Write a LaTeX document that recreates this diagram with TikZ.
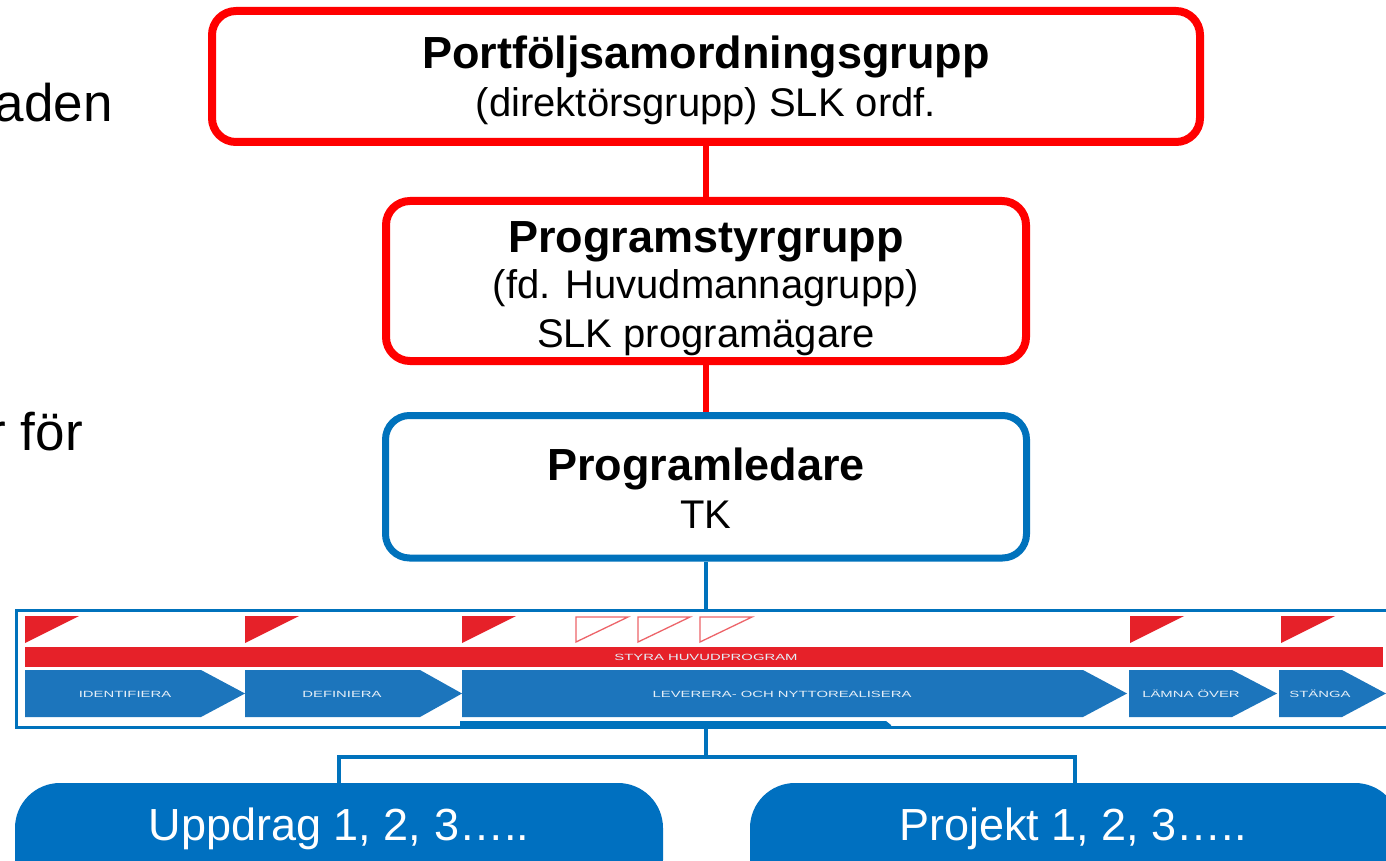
\documentclass[tikz,border=0pt]{standalone}
\usepackage{fontspec}
\setmainfont{Liberation Sans}
\definecolor{bred}{RGB}{255,0,0}
\definecolor{bblue}{RGB}{0,114,188}
\definecolor{chev}{RGB}{28,117,188}
\definecolor{flagred}{RGB}{230,33,41}
\definecolor{pillblue}{RGB}{0,112,192}
\tikzset{
  redbox/.style={draw=bred, line width=8pt, rounded corners=24pt, fill=white, inner sep=0pt},
  bluebox/.style={draw=bblue, line width=7pt, rounded corners=24pt, fill=white, inner sep=0pt},
  title/.style={font=\fontsize{45}{45}\selectfont\bfseries, anchor=base, inner sep=0pt},
  sub/.style={font=\fontsize{40}{40}\selectfont, anchor=base, inner sep=0pt},
  side/.style={font=\fontsize{53}{53}\selectfont, anchor=base east, inner sep=0pt},
  redline/.style={draw=bred, line width=6pt},
  blueline/.style={draw=bblue, line width=3.5pt},
  pill/.style={fill=pillblue, rounded corners=45pt, inner sep=0pt},
  pilltext/.style={font=\fontsize{45}{45}\selectfont, text=white, anchor=base, inner sep=0pt},
  tiny/.style={font=\fontsize{9}{9}\selectfont, text=white!88!chev, inner sep=0pt},
}
\newcommand{\wide}[1]{\scalebox{1.65}[1]{#1}}
\begin{document}
\begin{tikzpicture}[x=1pt,y=-1pt]
\clip (0,0) rectangle (1386,861);
\fill[white] (0,0) rectangle (1386,861);

% left cut-off texts
\node[side] (lt1) at (113,122) {aden};
\node[side] (lt2) at (83,450) {r för};

% boxes
\node[redbox, minimum width=988pt, minimum height=131pt] (pf) at (706,76.5) {};
\node[redbox, minimum width=640pt, minimum height=160pt] (ps) at (706,281) {};
\node[bluebox, minimum width=641pt, minimum height=142.5pt] (pl) at (706,486.75) {};
\draw[redline] (pf.south) -- (ps.north);
\draw[redline] (ps.south) -- (pl.north);

% texts
\node[title] (pft) at (706,69) {Portföljsamordningsgrupp};
\node[sub] (pfs) at (706,117) {(direktörsgrupp) SLK ordf.};
\node[title] (pst) at (706,252) {Programstyrgrupp};
\node[sub] (pss1) at (706,298) {(fd. Huvudmannagrupp)};
\node[sub] (pss2) at (706,347) {SLK programägare};
\node[title] (plt) at (706,480) {Programledare};
\node[sub] (pls) at (706,528) {TK};

% process frame
\node[draw=bblue, line width=3pt, minimum width=1376pt, minimum height=117pt, inner sep=0pt] (frame) at (704,668.5) {};
\draw[blueline] (pl.south) -- (pl.south |- frame.north);
\fill[bblue] (460,721) -- (886,721) -- (891,725) -- (891,728) -- (460,728) -- cycle;

% flags
\foreach \x in {25,245,462,1130,1281}
  \fill[flagred] (\x,616) -- ++(54,0) -- (\x,643) -- cycle;
\foreach \x in {576,638,700}
  \draw[flagred!70, line width=1.3pt] (\x,617) -- ++(52,0) -- (\x,642) -- cycle;

% red bar
\node[fill=flagred, minimum width=1358pt, minimum height=20pt, inner sep=0pt] (styra) at (704,657) {};
\node[tiny] (styrat) at (706,657.5) {\wide{STYRA HUVUDPROGRAM}};

% chevrons
\fill[chev] (25,670) -- (201,670) -- (245,693.5) -- (201,717) -- (25,717) -- cycle;
\fill[chev] (245,670) -- (420,670) -- (462,693.5) -- (420,717) -- (245,717) -- cycle;
\fill[chev] (462,670) -- (1083,670) -- (1127,693.5) -- (1083,717) -- (462,717) -- cycle;
\fill[chev] (1129,670) -- (1232,670) -- (1277,693.5) -- (1232,717) -- (1129,717) -- cycle;
\fill[chev] (1279,670) -- (1342,670) -- (1386,693.5) -- (1342,717) -- (1279,717) -- cycle;
\node[tiny] (c1) at (125,694) {\wide{IDENTIFIERA}};
\node[tiny] (c2) at (342,694) {\wide{DEFINIERA}};
\node[tiny] (c3) at (782,694) {\wide{LEVERERA- OCH NYTTOREALISERA}};
\node[tiny] (c4) at (1191,694) {\wide{LÄMNA ÖVER}};
\node[tiny] (c5) at (1320,694) {\wide{STÄNGA}};

% bottom pills
\node[pill, minimum width=648pt, minimum height=122pt] (upp) at (339,844) {};
\node[pill, minimum width=650pt, minimum height=122pt] (proj) at (1075,844) {};
\node[pilltext] (uppt) at (339,840) {Uppdrag 1, 2, 3…..};
\node[pilltext] (projt) at (1073,840) {Projekt 1, 2, 3…..};

\coordinate (jn) at (706,757);
\draw[blueline] (pl.south |- frame.south) -- (jn);
\draw[blueline] (upp.north) |- (jn) -| (proj.north);
\end{tikzpicture}
\end{document}
